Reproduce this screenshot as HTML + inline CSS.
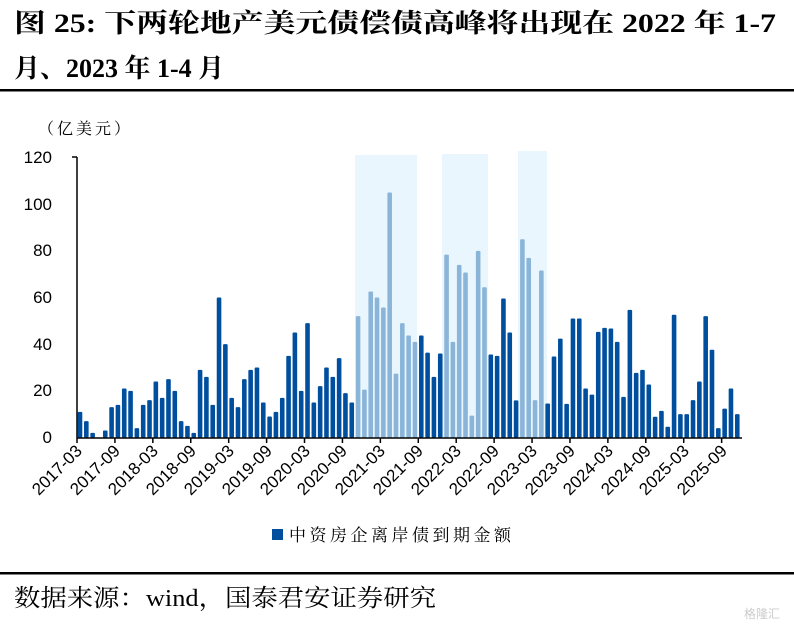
<!DOCTYPE html>
<html><head><meta charset="utf-8"><style>
html,body{margin:0;padding:0;background:#fff;width:794px;height:633px;overflow:hidden}
svg{display:block}
.t{font-family:"Liberation Serif","Noto Serif CJK SC",serif;font-weight:bold;font-size:26px;fill:#000}
.ax{font-family:"Liberation Sans","Noto Sans CJK SC",sans-serif;font-size:17px;fill:#000}
.xl{font-family:"Liberation Sans",sans-serif;font-size:17px;fill:#000}
.cn{font-family:"Liberation Serif","Noto Serif CJK SC",serif;fill:#000}
</style></head><body>
<svg id="s" width="794" height="633" viewBox="0 0 794 633" xmlns="http://www.w3.org/2000/svg">
<text class="t" x="14" y="32" textLength="762" lengthAdjust="spacingAndGlyphs">图 25:  下两轮地产美元债偿债高峰将出现在 2022 年 1-7</text>
<text class="t" x="14" y="77">月、2023 年 1-4 月</text>
<rect x="0" y="89" width="794" height="2.5" fill="#000"/>
<text class="cn" x="38" y="134" font-size="16" letter-spacing="3">（亿美元）</text>
<g class="ax" text-anchor="end">
<text x="52" y="443">0</text><text x="52" y="396">20</text><text x="52" y="350">40</text>
<text x="52" y="303">60</text><text x="52" y="256">80</text><text x="52" y="210">100</text><text x="52" y="163">120</text>
</g>
<rect x="355" y="155" width="62" height="283" fill="#e9f6fd"/>
<rect x="442" y="154" width="46" height="285" fill="#e9f6fd"/>
<rect x="518" y="151" width="29" height="287" fill="#e9f6fd"/>
<g id="bars"></g>
<line x1="77" y1="157" x2="77" y2="438" stroke="#000" stroke-width="1.5"/>
<line x1="72" y1="157" x2="77" y2="157" stroke="#000" stroke-width="1.5"/>
<line x1="77" y1="438" x2="742" y2="438" stroke="#000" stroke-width="1.5"/>
<g id="ticks"></g>
<g class="xl" text-anchor="end">
<text transform="translate(83,452) rotate(-45)">2017-03</text>
<text transform="translate(121,452) rotate(-45)">2017-09</text>
<text transform="translate(159,452) rotate(-45)">2018-03</text>
<text transform="translate(197,452) rotate(-45)">2018-09</text>
<text transform="translate(235,452) rotate(-45)">2019-03</text>
<text transform="translate(273,452) rotate(-45)">2019-09</text>
<text transform="translate(311,452) rotate(-45)">2020-03</text>
<text transform="translate(348,452) rotate(-45)">2020-09</text>
<text transform="translate(386,452) rotate(-45)">2021-03</text>
<text transform="translate(424,452) rotate(-45)">2021-09</text>
<text transform="translate(462,452) rotate(-45)">2022-03</text>
<text transform="translate(500,452) rotate(-45)">2022-09</text>
<text transform="translate(538,452) rotate(-45)">2023-03</text>
<text transform="translate(576,452) rotate(-45)">2023-09</text>
<text transform="translate(614,452) rotate(-45)">2024-03</text>
<text transform="translate(652,452) rotate(-45)">2024-09</text>
<text transform="translate(690,452) rotate(-45)">2025-03</text>
<text transform="translate(728,452) rotate(-45)">2025-09</text>
</g>
<rect x="272" y="529" width="11" height="11" fill="#004f9f"/>
<text class="cn" x="289" y="541" font-size="17" letter-spacing="3.5" fill="#222">中资房企离岸债到期金额</text>
<rect x="0" y="572" width="794" height="2.5" fill="#000"/>
<text class="cn" x="14" y="606" font-size="24" textLength="422" lengthAdjust="spacingAndGlyphs">数据来源：wind，国泰君安证券研究</text>
<text x="780" y="618" font-family="Liberation Sans,Noto Sans CJK SC,sans-serif" font-size="12" fill="#ccc" text-anchor="end">格隆汇</text>
</svg>
<script>
var v=[11,7,2,0,3,13,14,21,20,4,14,16,24,17,25,20,7,5,2,29,26,14,60,40,17,13,25,29,30,15,9,11,17,35,45,20,49,15,22,30,26,34,19,15,
52,20.5,62.6,60,55.7,105,27.4,49,43.7,41,43.7,36.4,26,36,78.4,41,74,70.7,9.4,80,64.4,35.6,35,59.6,45,15.9,85,77,16,71.6,
14.6,34.7,42.4,14.4,51,51,21,18.4,45.3,47,46.7,41,17.4,54.7,27.7,29,22.7,8.9,11.4,4.6,52.6,10,10,16,24,52,37.6,4,12.4,21,10];
function light(i){return (i>=44&&i<=53)||(i>=58&&i<=64)||(i>=70&&i<=73);}
var g=document.getElementById('bars'),h='';
for(var i=0;i<v.length;i++){var x=80+i*6.32,ht=v[i]*2.333;if(ht<=0)continue;
h+='<rect x="'+(x-2.3).toFixed(2)+'" y="'+(437.5-ht).toFixed(2)+'" width="4.6" height="'+ht.toFixed(2)+'" rx="1" fill="'+(light(i)?'#8ab5d9':'#004f9f')+'"/>';}
g.innerHTML=h;
var t='';for(var k=0;k<18;k++){var x=77+k*6*6.32;t+='<line x1="'+x+'" y1="438" x2="'+x+'" y2="443" stroke="#000" stroke-width="1.5"/>';}
document.getElementById('ticks').innerHTML=t;
</script>
</body></html>
